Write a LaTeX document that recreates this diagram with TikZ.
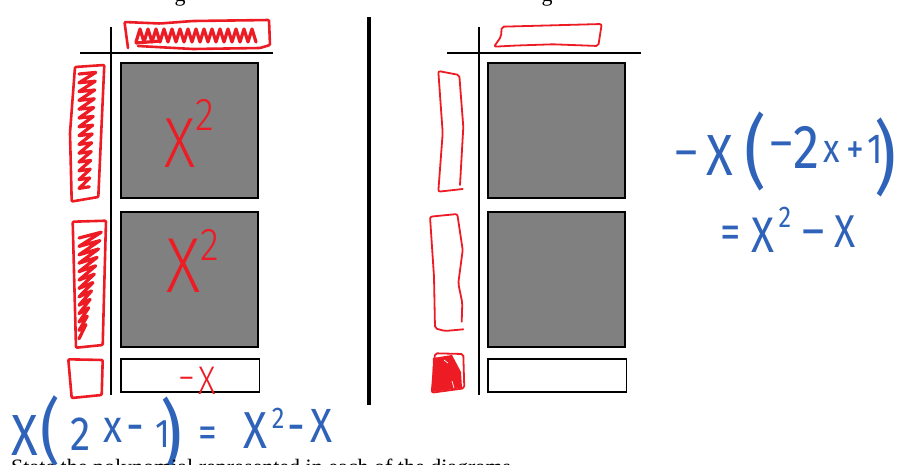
\documentclass[tikz,border=0pt]{standalone}
\usepackage{fontspec}
\setmainfont{Liberation Serif}
\newfontfamily\handfont[FakeStretch=0.85]{Fira Sans Light}
\newfontfamily\bluefont[FakeStretch=0.85]{Fira Sans}
\definecolor{inkred}{HTML}{ED1C24}
\definecolor{inkblue}{HTML}{2F63B9}
\newcommand{\hsz}[2]{{\fontsize{#1}{#1}\selectfont #2}}
\newcommand{\hup}[3]{\raisebox{#2pt}{\hsz{#1}{#3}}}
\tikzset{
  axisline/.style={black,line width=1.6pt},
  graybox/.style={fill=gray,draw=black,line width=1.6pt},
  whitebox/.style={fill=white,draw=black,line width=1.6pt},
  redthick/.style={inkred,line width=2.6pt,line join=round,line cap=round,rounded corners=1pt},
  redthin/.style={inkred,line width=1.8pt,line join=round,line cap=round,rounded corners=2pt},
  scribble/.style={inkred,line width=3.2pt,line join=round,line cap=round},
  redtext/.style={inkred,font=\handfont,anchor=base west,inner sep=0pt},
  bluetext/.style={inkblue,font=\bluefont,anchor=base west,inner sep=0pt},
  printtext/.style={inner sep=0pt,font=\fontsize{22}{22}\selectfont}
}
\begin{document}
\begin{tikzpicture}[x=1pt,y=-1pt]
  \useasboundingbox (0,0) rectangle (905,464);
  % axes and middle bar
  \foreach \x/\xa/\xb in {111/80/273,479/447/641} {
    \draw[axisline] (\x,27) -- (\x,395);
    \draw[axisline] (\xa,53) -- (\xb,53);
  }
  \draw[black,line width=4pt] (369,17) -- (369,405);
  % boxes
  \foreach \x in {121,488} {
    \draw[graybox] (\x,63) rectangle ++(137,135);
    \draw[graybox] (\x,212) rectangle ++(137,135);
    \draw[whitebox] (\x,359) rectangle ++(138.5,33);
  }
  % left diagram, red marks
  \draw[redthick] (128,48) -- (124.5,22) -- (160,23.5) -- (193,21) -- (269,20) -- (270,45) -- (260,48) -- (193,49) -- (138,46);
  \draw[scribble] plot[samples at={0,...,30}] ({136+4*\x},{29+mod(\x+1,2)*13});
  \draw[scribble] (136,43) -- (160,41);
  \draw[redthick] (75,67) -- (104.3,65) -- (98.3,197) -- (71.7,201.5) -- (70,133) -- cycle;
  \draw[scribble] plot[samples at={0,...,27}] ({79+mod(\x,2)*(17-\x*0.25)},{74+4.4*\x-mod(\x,2)*6});
  \draw[redthick] (72.7,221.7) -- (106,220.7) -- (102.7,345) -- (76,347.7) -- cycle;
  \draw[scribble] plot[samples at={0,...,24}] ({79+mod(\x,2)*(23-\x*0.7)},{238+4.2*\x-mod(\x,2)*10});
  \draw[redthick] (68.3,359.3) -- (102.7,360) -- (101.7,395) -- (71.7,398) -- cycle;
  % right diagram, red marks
  \draw[redthin] (501.7,26.7) -- (601.7,24) -- (598.3,46) -- (553,44.3) -- (516.7,45.5) -- (494,46.7) -- (501,36.7) -- cycle;
  \draw[redthin] (462.7,189) -- (438.3,191.7) -- (442.7,133) -- (438.3,71) -- (459.3,75) -- (463.3,127) -- (460,185);
  \draw[redthin] (463.3,329.3) -- (445,331) -- (435,328.3) -- (434,276.7) -- (430,216.7) -- (457.3,214) -- (462.7,250) -- (458.3,283.3) -- (462.3,303) -- (461.7,321.7);
  \draw[redthin] (435,353.3) -- (463.3,354) -- (464.3,388.3) -- (431.7,392.7) -- cycle;
  \fill[inkred] (433,358) -- (452,355) -- (461,372) -- (462,388) -- (432,392) -- cycle;
  \draw[white,line width=0.7pt] (452,381) -- (454,388);
  \draw[white,line width=0.7pt] (444,360) -- (448,363);
  % handwritten labels
  \node[redtext] (sqone) at (164,167) {\hsz{71}{X}\hup{46}{37}{2}};
  \node[redtext] (sqtwo) at (166,292) {\hsz{78}{X}\hup{46}{32}{2}};
  \node[redtext] (minusx) at (178,394) {\hup{40}{3}{−}\hspace{4pt}\hsz{40}{X}};
  \node[bluetext] (eqleft) at (11,455) {\hsz{58}{X}\hspace{3pt}\hup{72}{-1}{(}\hspace{10pt}\hup{48}{5}{2}\hspace{13pt}\hup{46}{13}{x}\hspace{4pt}\hup{52}{12}{-}\hspace{11pt}\hup{40}{8}{1}\hspace{-10pt}\hup{80}{-9}{)}\hspace{16pt}\hup{44}{8}{=}\hspace{26pt}\hup{52}{7}{X}\hspace{5pt}\hup{30}{27}{2}\hspace{3pt}\hup{52}{12}{-}\hspace{5pt}\hup{48}{13}{X}};
  \node[bluetext] (eqtop) at (675,175) {\hup{50}{7}{–}\hspace{9pt}\hsz{58}{X}\hspace{12pt}\hup{80}{-4}{(}\hspace{4pt}\hup{50}{16}{–}\hup{62}{7}{2}\hspace{4pt}\hup{40}{13}{x}\hspace{7pt}\hup{42}{12}{+}\hspace{3pt}\hup{42}{12}{1}\hspace{-8pt}\hup{80}{-10}{)}};
  \node[bluetext] (eqbot) at (720,252) {\hup{48}{4}{=}\hspace{11pt}\hsz{50}{X}\hspace{4pt}\hup{30}{25}{2}\hspace{11pt}\hup{50}{5}{–}\hspace{10pt}\hup{46}{5}{X}};
  % cut off printed text
  \node[printtext,anchor=base] (gone) at (180,1.5) {g};
  \node[printtext,anchor=base] (gtwo) at (547,1.5) {g};
  \node[printtext,anchor=base west] (task) at (11,474) {State the polynomial represented in each of the diagrams.};
\end{tikzpicture}
\end{document}
